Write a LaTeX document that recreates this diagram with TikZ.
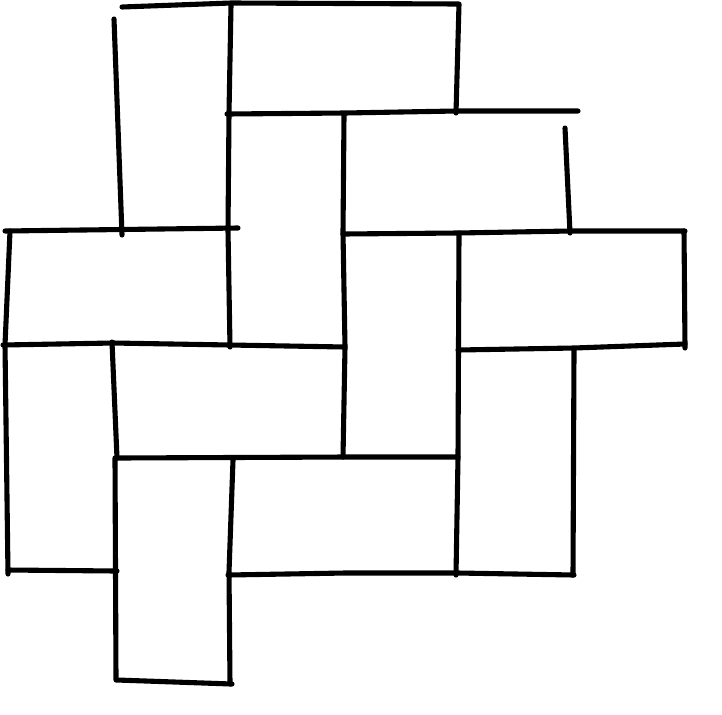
\documentclass[tikz,border=0pt]{standalone}
\usepackage{tikz}
\tikzset{
	wall/.style={
		line width=2.9pt,
		line cap=round,
		line join=round,
		black}
}
\begin{document}
\begin{tikzpicture}[x=0.02cm, y=-0.02cm]
				\useasboundingbox (0,0) rectangle (722,714);
				% upper part
				\draw[wall] (122,7) -- (231,3) -- (459,4) -- (456,113);
				\draw[wall] (114,19) -- (122,235);
				\draw[wall] (231,5) -- (229,113) -- (228,230) -- (230,347);
				\draw[wall] (227,114) -- (345,113) -- (456,111) -- (578,111);
				\draw[wall] (565,128) -- (570,233);
				\draw[wall] (5,231) -- (238,228);
				\draw[wall] (344,115) -- (343,233) -- (345,347) -- (343,457);
				\draw[wall] (343,234) -- (458,233) -- (570,231) -- (685,231);
				\draw[wall] (684,231) -- (685,348);
				\draw[wall] (458,350) -- (574,348) -- (685,344);
				% lower part
				\draw[wall] (459,233) -- (458,457) -- (456,575);
				\draw[wall] (574,350) -- (573,575);
				\draw[wall] (228,575) -- (345,573) -- (458,573) -- (574,575);
				\draw[wall] (10,231) -- (5,345) -- (8,574);
				\draw[wall] (3,345) -- (113,343) -- (230,345) -- (345,347);
				\draw[wall] (112,342) -- (117,458);
				\draw[wall] (117,458) -- (345,457) -- (458,457);
				\draw[wall] (8,570) -- (117,571);
				\draw[wall] (115,458) -- (116,680);
				\draw[wall] (117,680) -- (232,684);
				\draw[wall] (233,460) -- (229,572) -- (230,684);
\end{tikzpicture}
\end{document}
